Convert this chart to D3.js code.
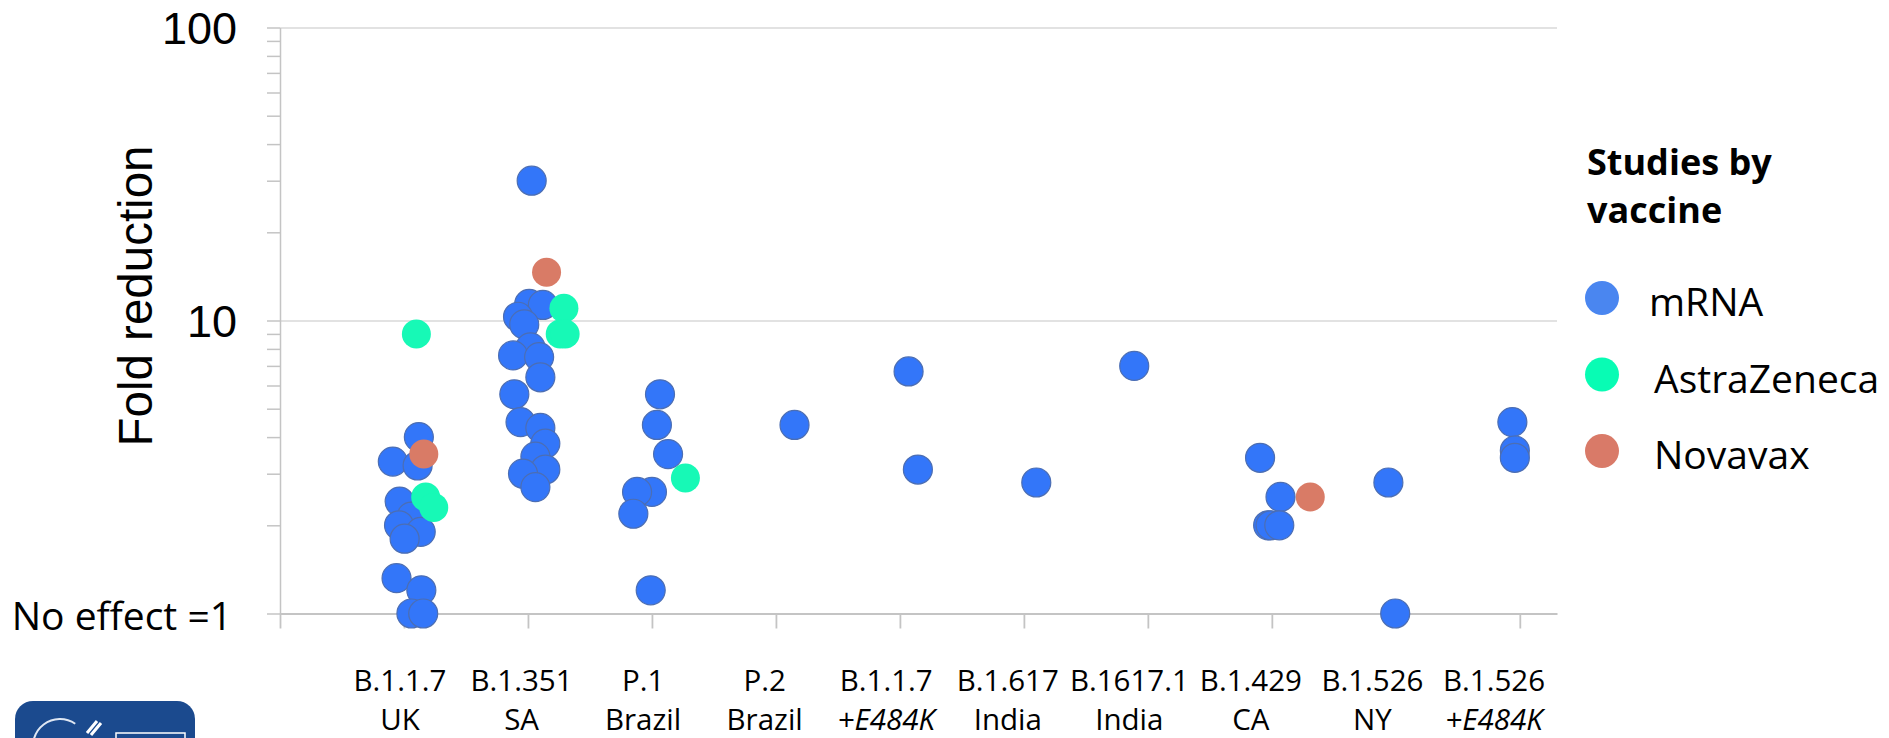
<!DOCTYPE html>
<html>
<head>
<meta charset="utf-8">
<script src="https://cdn.jsdelivr.net/npm/d3@7"></script>
<style>
body { margin: 0; background: #fff; }
svg { display: block; }
</style>
</head>
<body>
<svg id="chart" width="1889" height="738"></svg>
<script>
// variants on the x axis, two lines each
const variantNames = ['B.1.1.7', 'B.1.351', 'P.1', 'P.2', 'B.1.1.7', 'B.1.617', 'B.1617.1', 'B.1.429', 'B.1.526', 'B.1.526'];
const variantPlaces = ['UK', 'SA', 'Brazil', 'Brazil', '+E484K', 'India', 'India', 'CA', 'NY', '+E484K'];
const vaccines = ['mRNA', 'AstraZeneca', 'Novavax'];

// [jittered variant position (1 = first variant), fold reduction]
const mrnaStudies = [
  [1.12, 4.0], [0.91, 3.3], [1.11, 3.2], [0.965, 2.41], [1.06, 2.14], [0.96, 2.0], [1.135, 1.9],
  [1.005, 1.8], [0.94, 1.32], [1.14, 1.2], [1.06, 1.0], [1.155, 1.0],
  [2.03, 30], [2.01, 11.4], [2.12, 11.3], [1.92, 10.3], [1.97, 9.7], [2.02, 8.1], [1.88, 7.6],
  [2.09, 7.5], [2.10, 6.4], [1.89, 5.6], [1.94, 4.5], [2.10, 4.3], [2.14, 3.8], [2.06, 3.43],
  [2.14, 3.1], [1.96, 3.0], [2.06, 2.7],
  [3.065, 5.6], [3.04, 4.4], [3.13, 3.5], [3.00, 2.6], [2.88, 2.6], [2.85, 2.19], [2.99, 1.2],
  [4.15, 4.4],
  [5.07, 6.7], [5.145, 3.1],
  [6.10, 2.8],
  [6.89, 7.0],
  [7.905, 3.4], [8.07, 2.5], [7.97, 2.0], [7.99, 2.0], [8.06, 2.0],
  [8.94, 2.8], [8.995, 1.0],
  [9.94, 4.5], [9.96, 3.6], [9.96, 3.4]
];
const azStudies = [
  [1.10, 9.0], [1.175, 2.5], [1.24, 2.3],
  [2.29, 11.0], [2.26, 9.0], [2.30, 9.0],
  [3.27, 2.9]
];
const novavaxStudies = [
  [1.16, 3.5],
  [2.15, 14.6],
  [8.31, 2.5]
];

const yTickValues = [1, 10, 100];
const yTickLabels = ['No effect =1', '10', '100'];

const svg = d3.select('#chart');

const x = d3.scaleLinear().domain([0, 10.3]).range([280, 1557]);
const y = d3.scaleLog().domain([1, 100]).range([613.5, 27.5]);
const color = d3.scaleOrdinal().domain(vaccines).range(['#3376f9', '#17f9b6', '#d97b66']);
const legendColor = d3.scaleOrdinal().domain(vaccines).range(['#4a86f0', '#08fcb4', '#d97a68']);
const labelX = d3.scalePoint().domain(d3.range(variantNames.length)).range([400, 1494]);

// major gridlines
const grid = svg.append('g')
    .attr('transform', `translate(${x(0)},0)`)
    .call(d3.axisLeft(y).tickValues([10, 100]).tickSize(-(x.range()[1] - x(0))).tickFormat(''));
grid.select('.domain').remove();
grid.selectAll('line').attr('stroke', '#d9d9d9').attr('stroke-width', 1.3);

// y axis with minor ticks
const yAxis = svg.append('g')
    .attr('transform', `translate(${x(0)},0)`)
    .call(d3.axisLeft(y).tickValues(y.ticks()).tickSize(13).tickSizeOuter(0).tickFormat(''));
yAxis.selectAll('line, path').attr('stroke', '#c4c4c4').attr('stroke-width', 1.5);

// x axis
const xAxis = svg.append('g')
    .attr('transform', `translate(0,${y(1)})`)
    .call(d3.axisBottom(x).tickValues(d3.range(0, 11)).tickSize(15).tickSizeOuter(0).tickFormat(''));
xAxis.selectAll('line, path').attr('stroke', '#c4c4c4').attr('stroke-width', 1.8);

// y tick labels
svg.append('g').selectAll('text')
  .data(yTickValues)
  .join('text')
    .attr('x', (d, i) => i === 0 ? 232 : 237)
    .attr('y', d => y(d) + 16)
    .attr('text-anchor', 'end')
    .style('font-family', (d, i) => i === 0 ? "'Open Sans', sans-serif" : "'Liberation Sans', Arial, sans-serif")
    .style('font-size', (d, i) => i === 0 ? '39px' : '45px')
    .attr('fill', '#000')
    .text((d, i) => yTickLabels[i]);

// y title
svg.append('text')
    .attr('transform', 'translate(152,296) rotate(-90)')
    .attr('text-anchor', 'middle')
    .style('font-family', "'Liberation Sans', Arial, sans-serif")
    .style('font-size', '47.5px')
    .text('Fold reduction');

// variant labels
const xl = svg.append('g').selectAll('g')
  .data(variantNames)
  .join('g')
    .attr('transform', (d, i) => `translate(${labelX(i)},0)`)
    .style('font-family', "'Open Sans', sans-serif")
    .style('font-size', '29.5px')
    .attr('text-anchor', 'middle');
xl.append('text').attr('y', 691).text(d => d);
xl.append('text').attr('y', 730)
    .style('font-style', (d, i) => variantPlaces[i].startsWith('+') ? 'italic' : 'normal')
    .text((d, i) => variantPlaces[i]);

// points
const studies = [
  ...mrnaStudies.map(d => ({ vaccine: 'mRNA', pos: d[0], fold: d[1] })),
  ...azStudies.map(d => ({ vaccine: 'AstraZeneca', pos: d[0], fold: d[1] })),
  ...novavaxStudies.map(d => ({ vaccine: 'Novavax', pos: d[0], fold: d[1] }))
];
svg.append('g').selectAll('circle')
  .data(studies)
  .join('circle')
    .attr('cx', d => x(d.pos))
    .attr('cy', d => y(d.fold))
    .attr('r', 14.5)
    .attr('fill', d => color(d.vaccine))
    .attr('stroke', d => d.vaccine === 'mRNA' ? '#4c6eb3' : 'none')
    .attr('stroke-width', 1.2);

// legend
const legendY = d3.scalePoint().domain(vaccines).range([298, 451]);
const legend = svg.append('g');
legend.append('text')
    .attr('x', 1587)
    .style('font-family', "'Open Sans', sans-serif")
    .style('font-size', '36px')
    .style('font-weight', 'bold')
    .selectAll('tspan')
    .data(['Studies by', 'vaccine'])
    .join('tspan')
      .attr('x', 1587)
      .attr('y', (d, i) => 175 + i * 48)
      .text(d => d);
const item = legend.selectAll('g.item')
  .data(vaccines)
  .join('g')
    .attr('class', 'item')
    .attr('transform', d => `translate(1602,${legendY(d)})`);
item.append('circle').attr('r', 17).attr('fill', d => legendColor(d));
item.append('text')
    .attr('x', (d, i) => i === 0 ? 47 : 52)
    .attr('y', 18)
    .style('font-family', "'Open Sans', sans-serif")
    .style('font-size', '39px')
    .text(d => d);

// agency logo corner
const logo = svg.append('g').attr('transform', 'translate(15,701)');
logo.append('rect').attr('width', 180).attr('height', 60).attr('rx', 18).attr('fill', '#1b4a8e');
logo.append('path')
    .attr('d', d3.arc()({ innerRadius: 26, outerRadius: 28, startAngle: -1.9, endAngle: 0.6 }))
    .attr('transform', 'translate(45,45)')
    .attr('fill', '#dfe7f3');
logo.append('path')
    .attr('d', 'M72,32 L82,20 M76,34 L86,22')
    .attr('stroke', '#fff').attr('stroke-width', 3);
logo.append('rect')
    .attr('x', 101).attr('y', 32).attr('width', 69).attr('height', 30)
    .attr('fill', 'none').attr('stroke', '#fff').attr('stroke-width', 1.5);
</script>
</body>
</html>
